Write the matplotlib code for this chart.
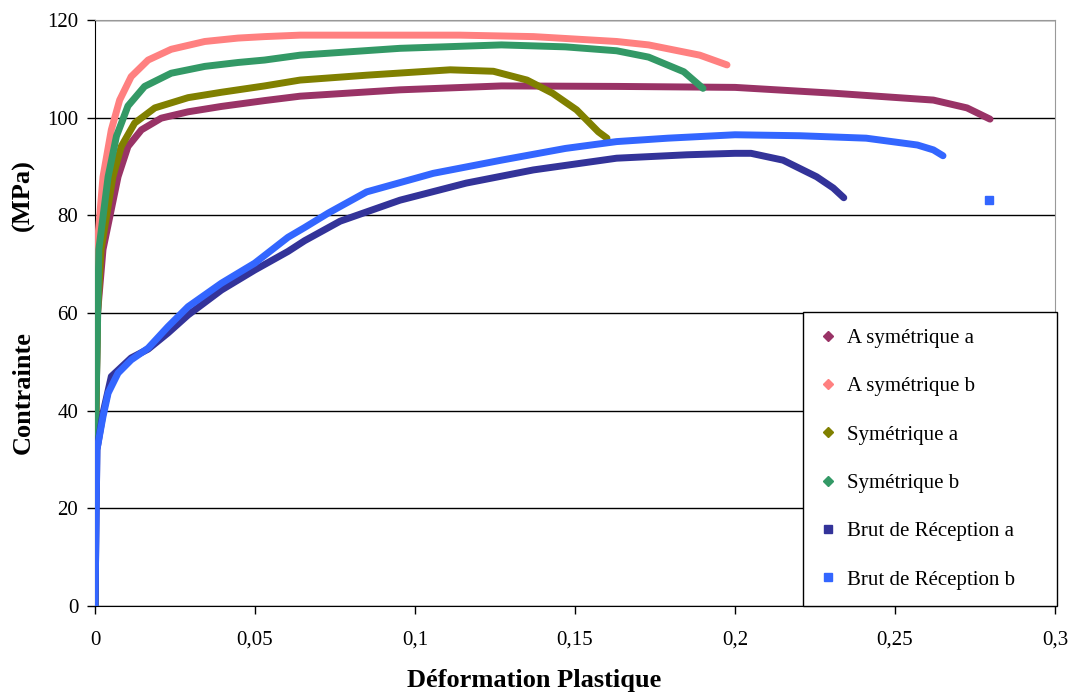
import matplotlib
matplotlib.use("Agg")
import matplotlib.pyplot as plt
from matplotlib.lines import Line2D

# courbes contrainte / deformation plastique
asym_a_x = [0, 0.0003, 0.0008, 0.0025, 0.0072, 0.0103, 0.0145, 0.0207, 0.0291, 0.0395, 0.053, 0.0641,
            0.0953, 0.127, 0.163, 0.2, 0.231, 0.262, 0.2725, 0.2797]
asym_a_y = [0, 40, 60, 73, 87.9, 94.1, 97.5, 99.9, 101.2, 102.3, 103.5, 104.4,
            105.7, 106.5, 106.4, 106.2, 105.0, 103.6, 102, 99.7]

asym_b_x = [0, 0.0002, 0.0006, 0.0025, 0.0051, 0.0077, 0.0113, 0.0166, 0.0238, 0.0343, 0.0447, 0.053,
            0.0641, 0.114, 0.137, 0.163, 0.173, 0.189, 0.1975]
asym_b_y = [0, 40, 73, 87.9, 97.5, 103.6, 108.4, 111.8, 114.0, 115.6, 116.3, 116.6,
            116.9, 116.9, 116.6, 115.6, 114.9, 112.8, 110.8]

sym_a_x = [0, 0.0003, 0.0008, 0.0019, 0.0056, 0.0082, 0.0124, 0.0187, 0.0291, 0.0395, 0.053, 0.0641,
           0.0849, 0.111, 0.1245, 0.135, 0.143, 0.1505, 0.1573, 0.16]
sym_a_y = [0, 40, 60, 73, 87.9, 94.1, 98.9, 102.0, 104.1, 105.2, 106.5, 107.7,
           108.7, 109.8, 109.5, 107.7, 105.0, 101.6, 97.1, 95.8]

sym_b_x = [0, 0.0003, 0.0012, 0.0041, 0.0067, 0.0103, 0.0155, 0.0238, 0.0343, 0.0447, 0.053, 0.0641,
           0.0953, 0.127, 0.147, 0.163, 0.173, 0.184, 0.19]
sym_b_y = [0, 40, 73, 87.9, 96.2, 102.4, 106.4, 109.1, 110.5, 111.3, 111.8, 112.8,
           114.2, 114.9, 114.5, 113.7, 112.4, 109.4, 106]

brut_a_x = [0, 0.0006, 0.0025, 0.0051, 0.0113, 0.0166, 0.0228, 0.0291, 0.0395, 0.0499, 0.0603, 0.0655,
            0.0766, 0.0953, 0.116, 0.137, 0.163, 0.185, 0.2, 0.205, 0.215, 0.2255, 0.2307, 0.234]
brut_a_y = [0, 32, 39.5, 47.0, 50.8, 52.6, 55.9, 59.6, 64.7, 68.8, 72.6, 74.8,
            78.8, 83.1, 86.6, 89.3, 91.7, 92.4, 92.7, 92.7, 91.3, 87.9, 85.6, 83.6]

brut_b_x = [0, 0.0006, 0.0025, 0.0041, 0.0072, 0.0113, 0.0166, 0.0228, 0.0291, 0.0395, 0.0499, 0.0603,
            0.0655, 0.073, 0.0849, 0.1057, 0.127, 0.147, 0.163, 0.179, 0.2, 0.2203, 0.241, 0.257, 0.262, 0.265]
brut_b_y = [0, 32, 38.8, 43.6, 47.7, 50.4, 52.8, 57.2, 61.3, 66.1, 70.2, 75.5,
            77.5, 80.5, 84.8, 88.6, 91.3, 93.7, 95.1, 95.8, 96.5, 96.3, 95.8, 94.4, 93.4, 92.2]
brut_b_last_x = [0.2794]
brut_b_last_y = [83.1]

labels = ["A symétrique a", "A symétrique b", "Symétrique a", "Symétrique b",
          "Brut de Réception a", "Brut de Réception b"]
colors = ["#993366", "#FF8080", "#808000", "#339966", "#333399", "#3366FF"]
markers = ["D", "D", "D", "D", "s", "s"]

x_ticks = [0, 0.05, 0.1, 0.15, 0.2, 0.25, 0.3]
x_ticklabels = ["0", "0,05", "0,1", "0,15", "0,2", "0,25", "0,3"]
y_ticks = [0, 20, 40, 60, 80, 100, 120]

plt.rcParams["font.family"] = ["Liberation Serif", "DejaVu Serif"]

fig = plt.figure(figsize=(10.73, 6.95), dpi=100)
ax = fig.add_axes([95 / 1073, 1 - 606 / 695, 960 / 1073, 586 / 695])

series = [(asym_a_x, asym_a_y), (asym_b_x, asym_b_y), (sym_a_x, sym_a_y),
          (sym_b_x, sym_b_y), (brut_a_x, brut_a_y), (brut_b_x, brut_b_y)]
for (xs, ys), c in zip(series, colors):
    ax.plot(xs, ys, color=c, lw=5, solid_capstyle="round", solid_joinstyle="round", zorder=3)
ax.plot(brut_b_last_x, brut_b_last_y, ls="none", marker="s", ms=6, color=colors[5], zorder=3)

ax.set_xlim(0, 0.3)
ax.set_ylim(0, 120)
ax.set_xticks(x_ticks)
ax.set_xticklabels(x_ticklabels)
ax.set_yticks(y_ticks)
ax.tick_params(direction="out", length=6, width=1, labelsize=15, colors="black")
ax.tick_params(axis="x", pad=12)
ax.tick_params(axis="y", pad=6)
ax.yaxis.grid(True, color="black", lw=1)
ax.set_axisbelow(True)
for s in ["top", "right"]:
    ax.spines[s].set_color("#999999")
ax.spines["left"].set_color("black")
ax.spines["bottom"].set_color("black")

handles = [Line2D([], [], ls="none", marker=m, ms=5 if m == "D" else 6, color=c)
           for m, c in zip(markers, colors)]
leg = ax.legend(handles, labels, loc="lower left", bbox_to_anchor=(0.7375, 0, 0.265, 0.5),
                mode="expand", borderaxespad=0, fontsize=15, labelspacing=1.38,
                handlelength=0.8, handletextpad=0.55, borderpad=0.78,
                fancybox=False, framealpha=1, edgecolor="black")
leg.get_frame().set_linewidth(1)
leg.set_zorder(5)

fig.text(534 / 1073, 1 - 681 / 695, "Déformation Plastique", fontsize=19, fontweight="bold",
         ha="center", va="center")
fig.text(23 / 1073, 1 - 393 / 695, "Contrainte", fontsize=19, fontweight="bold",
         rotation=90, ha="center", va="center")
fig.text(23 / 1073, 1 - 195 / 695, "(MPa)", fontsize=19, fontweight="bold",
         rotation=90, ha="center", va="center")

fig.savefig("out.png", dpi=100)
